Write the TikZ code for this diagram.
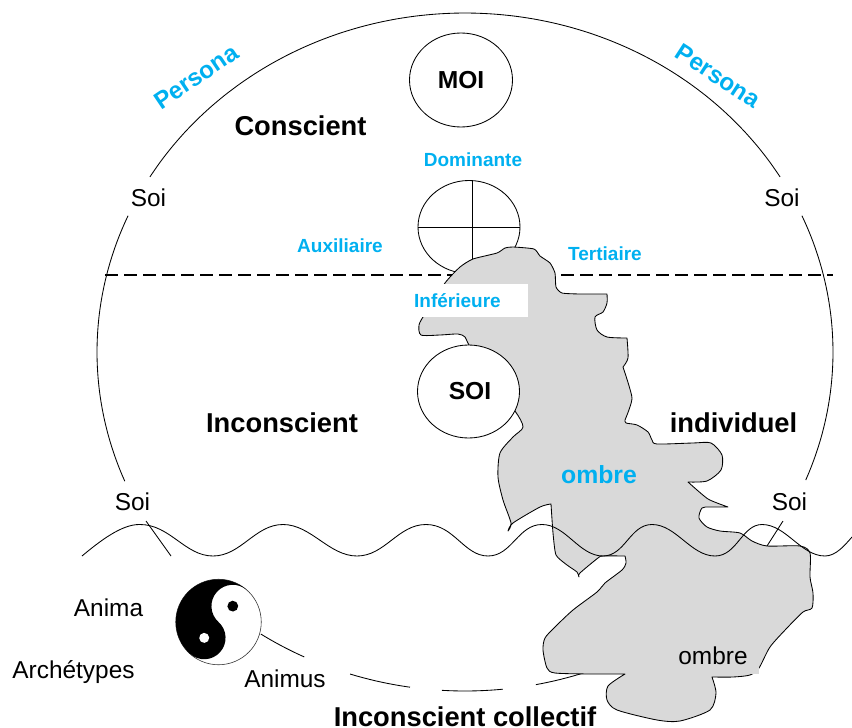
\documentclass[tikz,border=0pt]{standalone}
\usepackage{fontspec}
\setmainfont{Liberation Sans}
\usetikzlibrary{shapes.geometric}
\definecolor{sky}{HTML}{00B0F0}
\definecolor{blobgray}{HTML}{D9D9D9}
\newcommand{\mainarc}[2]{\draw[ink] plot[smooth,samples=40,domain=#1:#2] ({465+368*cos(\x)},{352+339*sin(\x)});}
\tikzset{
  ink/.style={line width=0.85pt,black,line cap=butt},
  lbl/.style={anchor=base,inner sep=0pt,font=\fontsize{24.4}{28}\selectfont},
  big/.style={anchor=base,inner sep=0pt,font=\fontsize{27.3}{32}\selectfont\bfseries},
  blue/.style={anchor=base,inner sep=0pt,text=sky,font=\fontsize{19}{22}\selectfont\bfseries},
  circ/.style={ellipse,draw=black,line width=0.85pt,fill=white,inner sep=0pt,font=\fontsize{24.6}{28}\selectfont\bfseries},
}
\begin{document}
\begin{tikzpicture}[x=1pt,y=-1pt]
\useasboundingbox (0,0) rectangle (852,728);
% main ellipse arcs
\mainarc{211.1}{328.9}
\mainarc{157.6}{203.7}
\mainarc{-23.7}{22.2}
\mainarc{115.9}{123.7}
\mainarc{98.6}{108.2}
\mainarc{84.1}{93.6}
\mainarc{70.6}{78.9}
% dashed line
\coordinate (dl) at (105,275);
\coordinate (dr) at (833,275);
\draw[line width=1.1pt,black,dash pattern=on 12.5pt off 6.5pt] (dl) -- (dr);
% circles
\node[circ,minimum width=103pt,minimum height=94pt] (moi) at (461,80) {MOI};
\node[circ,minimum width=102pt,minimum height=93pt] (quad) at (469,227) {};
\draw[ink] (quad.west) -- (quad.east);
\draw[ink] (472,181) -- (472,273);
% shadow blob
\draw[ink,fill=blobgray,line join=round]
  plot[smooth,tension=.45] coordinates {(423,317) (419,325) (421,335) (440,335) (458,334) (465,337) (469,345) (490,380) (515,411) (523,427) (513,437) (500,453) (498,477) (503,500) (511,523) (508,531)}
  -- plot[smooth,tension=.45] coordinates {(508,531) (513,523) (540,507) (551,504)}
  -- plot[smooth,tension=.35] coordinates {(551,504) (553,533) (556,555) (567,565) (577,572) (579,577)}
  -- plot[smooth,tension=.45] coordinates {(579,577) (580,573) (598,558) (603,556) (625,556)}
  -- plot[smooth,tension=.45] coordinates {(625,556) (626,563) (622,570) (605,583) (597,592) (573,610) (555,627) (545,638) (543,650) (547,668) (555,673) (590,674) (625,674)}
  -- plot[smooth,tension=.45] coordinates {(625,674) (608,686) (607,700) (617,710) (657,720) (680,721) (710,710) (716,693) (712,677)}
  -- plot[smooth,tension=.45] coordinates {(712,677) (733,677) (750,675) (759,668) (770,647) (787,628) (803,612) (812,608) (813,593) (810,577) (810,553) (800,546) (767,546) (752,541) (740,533) (720,531) (707,527) (699,518) (702,508) (710,507) (728,507)}
  -- plot[smooth,tension=.35] coordinates {(728,507) (708,499) (688,482)}
  -- plot[smooth,tension=.45] coordinates {(688,482) (707,481) (721,470) (722,455) (711,443) (693,443) (657,444) (652,440) (648,432) (637,425) (626,423) (625,420)}
  -- plot[smooth,tension=.35] coordinates {(625,420) (632,398) (623,367)}
  -- plot[smooth,tension=.45] coordinates {(623,367) (628,358) (627,338)}
  -- plot[smooth,tension=.45] coordinates {(627,338) (607,337) (597,330) (595,317) (603,312) (607,303) (607,294)}
  -- plot[smooth,tension=.35] coordinates {(607,294) (580,294) (562,293) (556,287) (555,273) (550,263) (540,256) (534,249) (513,247) (505,248) (497,253) (473,259) (460,267) (445,283) (423,317)}
  -- cycle;
\fill[blobgray] (742,662) rectangle (759,674);
% white label patch
\fill[white] (411,284) rectangle (528,317);
\node[circ,minimum width=102pt,minimum height=93pt] (soi) at (468.5,391.5) {\hspace*{3pt}SOI};
% wave
\coordinate (w0) at (82,556);
\draw[ink] (w0) .. controls (100,541) and (122,524) .. (140,524.5)
  .. controls (170,524.5) and (185,556) .. (213,556)
  .. controls (241,556) and (255,524.5) .. (283,524.5)
  .. controls (311,524.5) and (329,556) .. (357,556)
  .. controls (385,556) and (398,524.5) .. (426,524.5)
  .. controls (454,524.5) and (464,556) .. (488,556)
  .. controls (512,556) and (518,524.5) .. (542,524.5)
  .. controls (566,524.5) and (579,556) .. (603,556)
  .. controls (625,556) and (630,524.5) .. (652,524.5)
  .. controls (676,524.5) and (691,556) .. (715,556)
  .. controls (737,556) and (742,524.5) .. (762,524.5)
  .. controls (786,524.5) and (801,556) .. (825,556)
  .. controls (836,556) and (845,545) .. (852,537);
% ticks
\coordinate (t1a) at (146,521); \coordinate (t1b) at (171,556);
\coordinate (t2a) at (783,521); \coordinate (t2b) at (767,546);
\draw[ink] (t1a) -- (t1b);
\draw[ink] (t2a) -- (t2b);
% yin yang
\node[circle,draw=black!80,line width=0.6pt,fill=white,minimum size=85.5pt,inner sep=0pt] (yy) at (218.5,622) {};
\begin{scope}[x=1pt,y=1pt,shift={(218.5pt,-622pt)},rotate=48]
  \fill[black] (42.7,0) arc[start angle=0,end angle=180,radius=42.7]
     arc[start angle=180,end angle=360,radius=21.35]
     arc[start angle=180,end angle=0,radius=21.35] -- cycle;
  \fill[black] (21.35,0) circle[radius=5.4];
  \fill[white] (-21.35,0) circle[radius=5];
\end{scope}
% labels
\node[lbl] (soi1) at (148.5,206) {Soi};
\node[lbl] (soi2) at (782,206) {Soi};
\node[lbl] (soi3) at (132.5,510) {Soi};
\node[lbl] (soi4) at (789.5,510) {Soi};
\node[lbl] (anima) at (108.5,616) {Anima};
\node[lbl] (arch) at (73.5,678.5) {Archétypes};
\node[lbl] (animus) at (285,687) {Animus};
\node[lbl] (ombre2) at (713,664) {ombre};
\node[big] (consc) at (300.5,135) {Conscient};
\node[big] (incons) at (282,432) {Inconscient};
\node[big] (indiv) at (733.5,432) {individuel};
\node[big] (coll) at (465,726) {Inconscient collectif};
\node[blue] (dom) at (473,166) {Dominante};
\node[blue] (aux) at (340,252) {Auxiliaire};
\node[blue] (tert) at (605,260) {Tertiaire};
\node[blue] (inf) at (457.5,307.5) {Inférieure};
\node[blue,font=\fontsize{24.8}{28}\selectfont\bfseries] (ombre1) at (599,483) {ombre};
\node[anchor=center,inner sep=0pt,text=sky,rotate=34,font=\fontsize{24.2}{26}\selectfont\bfseries] (pers1) at (196,77) {Persona};
\node[anchor=center,inner sep=0pt,text=sky,rotate=-33,font=\fontsize{24.2}{26}\selectfont\bfseries] (pers2) at (718,76) {Persona};
\end{tikzpicture}
\end{document}
